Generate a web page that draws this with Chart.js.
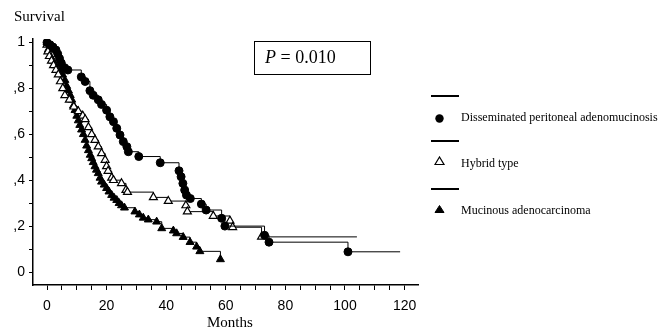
<!DOCTYPE html>
<html>
<head>
<meta charset="utf-8">
<script src="https://cdn.jsdelivr.net/npm/chart.js@4/dist/chart.umd.min.js"></script>
<style>
  html, body { margin: 0; padding: 0; background: #fff; }
  #wrap { position: relative; width: 666px; height: 331px; overflow: hidden; background: #fff; }
  #c { position: absolute; left: 0; top: 0; }
  .t { position: absolute; font-family: "Liberation Serif", "Times New Roman", serif; line-height: 1; color: #000; white-space: nowrap; }
  .ln { position: absolute; background: #000; height: 2px; width: 28px; left: 431px; }
  #pbox { position: absolute; left: 254px; top: 41px; width: 115px; height: 32px; border: 1px solid #000; }
  svg { position: absolute; }
</style>
</head>
<body>
<div id="wrap">
  <canvas id="c" width="666" height="331"></canvas>
  <div class="t" style="left:14px; top:9px; font-size:15px;">Survival</div>
  <div class="t" style="left:207px; top:315px; font-size:15px;">Months</div>
  <div id="pbox"></div>
  <div class="t" style="left:265px; top:48px; font-size:18px;"><i>P</i> = 0.010</div>

  <div class="ln" style="top:95px;"></div>
  <svg style="left:434px; top:113px;" width="11" height="11"><circle cx="5.5" cy="5.5" r="4.2" fill="#000"/></svg>
  <div class="t" style="left:461px; top:110.5px; font-size:12px;">Disseminated peritoneal adenomucinosis</div>

  <div class="ln" style="top:140px;"></div>
  <svg style="left:434px; top:156px;" width="12" height="10"><polygon points="1,8.5 10,8.5 5.5,1" fill="#fff" stroke="#000" stroke-width="1.2"/></svg>
  <div class="t" style="left:461px; top:156.6px; font-size:12px;">Hybrid type</div>

  <div class="ln" style="top:188px;"></div>
  <svg style="left:434px; top:204px;" width="12" height="10"><polygon points="1,8.5 10,8.5 5.5,1.5" fill="#000" stroke="#000" stroke-width="1"/></svg>
  <div class="t" style="left:461px; top:204px; font-size:12px;">Mucinous adenocarcinoma</div>
</div>
<script>
// ---- Data ----
const seriesNames = ["Disseminated peritoneal adenomucinosis", "Hybrid type", "Mucinous adenocarcinoma"];

const dpamMonths = [0, 1, 2, 3, 3.6, 4.2, 4.8, 5.9, 7, 11.5, 12.8, 14.4, 15.5, 17.2, 18.3, 20, 21.1, 22.3, 23.4, 24.5, 25.6, 26.8, 27.3, 30.8, 38, 44.3, 45, 45.6, 46.2, 46.8, 48.1, 51.8, 53.4, 58.6, 59.7, 73, 74.5, 101, 118.5];
const dpamSurvival = [1.0, 0.99, 0.98, 0.967, 0.95, 0.93, 0.91, 0.89, 0.88, 0.85, 0.83, 0.79, 0.77, 0.75, 0.73, 0.705, 0.676, 0.655, 0.626, 0.597, 0.568, 0.546, 0.524, 0.503, 0.476, 0.441, 0.415, 0.386, 0.357, 0.335, 0.32, 0.296, 0.27, 0.234, 0.20, 0.16, 0.13, 0.088, 0.088];

const hybridMonths = [0, 0.3, 0.8, 1.5, 2.2, 3, 3.8, 4.5, 5.3, 6, 7.5, 9, 10.5, 12, 12.8, 13.9, 15, 16.1, 17.2, 18.3, 19.5, 20, 20.5, 21.7, 22.3, 25, 26.5, 27, 35.7, 40.7, 46.6, 47.1, 55.8, 61.4, 62.3, 72, 104];
const hybridSurvival = [0.99, 0.96, 0.94, 0.92, 0.90, 0.88, 0.86, 0.83, 0.80, 0.77, 0.75, 0.72, 0.70, 0.68, 0.665, 0.63, 0.60, 0.575, 0.546, 0.517, 0.488, 0.46, 0.44, 0.41, 0.40, 0.386, 0.357, 0.348, 0.325, 0.309, 0.29, 0.263, 0.244, 0.223, 0.195, 0.153, 0.153];

const mucMonths = [0, 0.5, 1.1, 2, 2.8, 4.5, 5.2, 6, 6.6, 7.2, 7.8, 8.3, 8.9, 9.4, 10, 10.5, 11, 11.6, 12.2, 12.8, 13.3, 13.9, 14.5, 15, 15.5, 16.1, 16.6, 17.2, 17.8, 18.3, 19.2, 20, 20.8, 21.7, 22.5, 23.4, 24.2, 25, 26, 29.5, 31, 32.3, 34, 36.8, 38.5, 42.4, 43.5, 45.7, 48, 50.2, 51.3, 58.2];
const mucSurvival = [1.0, 0.97, 0.94, 0.92, 0.90, 0.88, 0.86, 0.836, 0.81, 0.79, 0.77, 0.75, 0.725, 0.705, 0.68, 0.66, 0.64, 0.62, 0.60, 0.575, 0.55, 0.53, 0.51, 0.495, 0.478, 0.46, 0.445, 0.43, 0.41, 0.393, 0.38, 0.365, 0.35, 0.335, 0.323, 0.313, 0.30, 0.29, 0.28, 0.263, 0.25, 0.236, 0.228, 0.219, 0.19, 0.18, 0.168, 0.152, 0.13, 0.11, 0.09, 0.055];

const xTickValues = [0, 5, 10, 15, 20, 25, 30, 35, 40, 45, 50, 55, 60, 65, 70, 75, 80, 85, 90, 95, 100, 105, 110, 115, 120];
const xTickLabels = ["0", "20", "40", "60", "80", "100", "120"];
const yTickValues = [0, 0.1, 0.2, 0.3, 0.4, 0.5, 0.6, 0.7, 0.8, 0.9, 1.0];
const yTickLabels = ["0", ",2", ",4", ",6", ",8", "1"];

// ---- Build chart ----
function pts(xs, ys) { return xs.map((x, i) => ({ x: x, y: ys[i] })); }
function radii(n, r, lastHidden) { return Array.from({ length: n }, (_, i) => (lastHidden && i === n - 1) ? 0 : r); }

const tickFont = { family: "'Liberation Sans', Arial, sans-serif", size: 14 };

new Chart(document.getElementById('c'), {
  type: 'line',
  data: {
    datasets: [
      {
        label: seriesNames[0],
        data: pts(dpamMonths, dpamSurvival),
        stepped: true,
        borderColor: '#000', borderWidth: 1,
        pointStyle: 'circle',
        pointRadius: radii(dpamMonths.length, 4, true),
        pointBackgroundColor: '#000', pointBorderColor: '#000', pointBorderWidth: 1
      },
      {
        label: seriesNames[1],
        data: pts(hybridMonths, hybridSurvival),
        stepped: true,
        borderColor: '#000', borderWidth: 1,
        pointStyle: 'triangle',
        pointRadius: radii(hybridMonths.length, 4.6, true),
        pointBackgroundColor: '#fff', pointBorderColor: '#000', pointBorderWidth: 1.2
      },
      {
        label: seriesNames[2],
        data: pts(mucMonths, mucSurvival),
        stepped: true,
        borderColor: '#000', borderWidth: 1,
        pointStyle: 'triangle',
        pointRadius: radii(mucMonths.length, 4.6, false),
        pointBackgroundColor: '#000', pointBorderColor: '#000', pointBorderWidth: 1
      }
    ]
  },
  options: {
    responsive: false,
    animation: false,
    devicePixelRatio: 1,
    layout: { padding: { left: 0, right: 248, top: 39, bottom: 0 } },
    plugins: { legend: { display: false }, tooltip: { enabled: false } },
    elements: { line: { tension: 0, fill: false } },
    scales: {
      x: {
        type: 'linear',
        min: -4.7, max: 124.5,
        afterBuildTicks: s => { s.ticks = xTickValues.map(v => ({ value: v })); },
        afterFit: s => { s.height = 46; },
        ticks: {
          autoSkip: false, maxRotation: 0, color: '#000', font: tickFont, padding: 8,
          callback: v => (v % 20 === 0 ? xTickLabels[v / 20] : '')
        },
        grid: { display: true, drawOnChartArea: false, drawTicks: true, tickLength: 5, color: '#000', lineWidth: 1 },
        border: { display: true, color: '#000', width: 1.5 }
      },
      y: {
        type: 'linear',
        min: -0.0566, max: 1.015,
        afterBuildTicks: s => { s.ticks = yTickValues.map(v => ({ value: v })); },
        afterFit: s => { s.width = 33; },
        ticks: {
          autoSkip: false, color: '#000', font: tickFont, padding: 4,
          callback: v => {
            const k = Math.round(v * 10);
            return k % 2 === 0 ? yTickLabels[k / 2] : '';
          }
        },
        grid: { display: true, drawOnChartArea: false, drawTicks: true, tickLength: 4, color: '#000', lineWidth: 1 },
        border: { display: true, color: '#000', width: 1.5 }
      }
    }
  }
});
</script>
</body>
</html>
